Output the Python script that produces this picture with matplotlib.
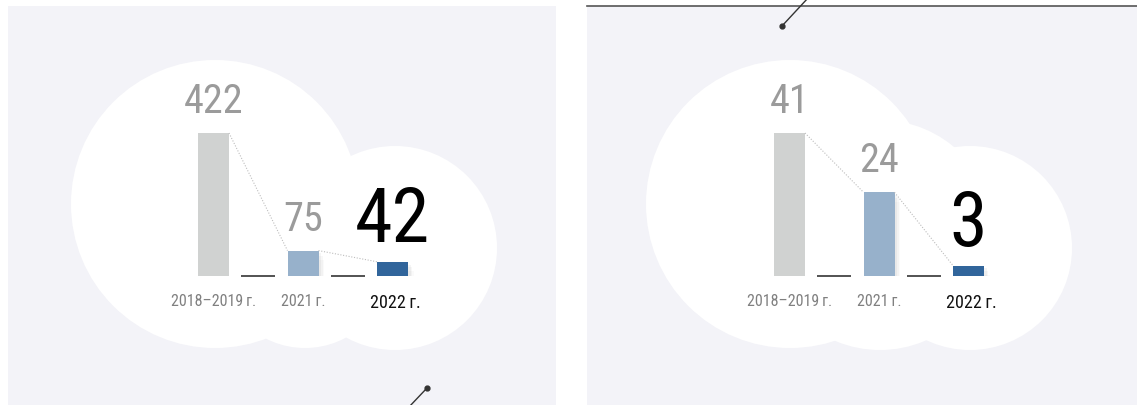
import matplotlib.pyplot as plt
from matplotlib.patches import Rectangle, Circle
from matplotlib import patheffects as pe

# Data
categories = ['2018–2019\u2009г.', '2021\u2009г.', '2022\u2009г.']
values_left = [422, 75, 42]
values_right = [41, 24, 3]

bar_colors = ['#d0d2d1', '#97b1cb', '#31659b']
value_colors = ['#9b9b9b', '#9b9b9b', '#000000']
value_sizes = [29, 29, 55]
cat_colors = ['#808080', '#808080', '#111111']
cat_sizes = [11.5, 11.5, 13]

plt.rcParams['font.family'] = ['Roboto Condensed', 'Liberation Sans Narrow',
                               'DejaVu Sans Condensed', 'Roboto', 'DejaVu Sans']

W, H = 1137, 405
fig = plt.figure(figsize=(W / 100, H / 100), dpi=100)
fig.patch.set_facecolor('white')

# background layer in pixel coordinates (y from top)
bg = fig.add_axes([0, 0, 1, 1])
bg.set_xlim(0, W)
bg.set_ylim(H, 0)
bg.axis('off')

panel_col = '#f3f3f8'
bg.add_patch(Rectangle((8, 6), 548, 400, color=panel_col, lw=0))
bg.add_patch(Rectangle((587, 6), 550, 400, color=panel_col, lw=0))

# clouds
for cx, cy, r in [(215, 204, 144), (305, 262, 86), (395, 248, 102)]:
    bg.add_patch(Circle((cx, cy), r, color='white', lw=0))
for cx, cy, r in [(790, 204, 144), (880, 235, 115), (970, 248, 102)]:
    bg.add_patch(Circle((cx, cy), r, color='white', lw=0))

# decorative lines
bg.plot([587, 1137], [6, 6], color='#555555', lw=1.2)
bg.plot([782, 808], [26, -2], color='#333333', lw=1)
bg.plot([782], [26], 'o', color='#333333', ms=3.5)
bg.plot([427, 409], [388, 407], color='#333333', lw=1)
bg.plot([427], [388], 'o', color='#333333', ms=3.5)


def draw_panel(left_px, values):
    spacing = 89.5
    height_px = 214.5
    ax = fig.add_axes([left_px / W, (H - 276) / H, 3 * spacing / W, height_px / H])
    ax.set_xlim(-0.5, 2.5)
    ax.set_ylim(0, max(values) * height_px / 143)
    ax.axis('off')
    ax.patch.set_alpha(0)

    w = 31 / spacing
    x = range(len(values))
    shadow = [pe.SimplePatchShadow(offset=(2, -2), shadow_rgbFace='k', alpha=0.04),
              pe.SimplePatchShadow(offset=(3, -4), shadow_rgbFace='k', alpha=0.03),
              pe.SimplePatchShadow(offset=(4, -7), shadow_rgbFace='k', alpha=0.02),
              pe.Normal()]
    bars = ax.bar(x, values, width=w, color=bar_colors, lw=0)
    for b in bars[1:]:
        b.set_path_effects(shadow)

    # short dashes between bars
    for i in range(len(values) - 1):
        ax.plot([i + 0.5 - 0.19, i + 0.5 + 0.19], [0, 0], color='#444444',
                lw=1.3, clip_on=False, solid_capstyle='butt')

    # dotted connectors
    for i in range(len(values) - 1):
        ax.plot([i + w / 2, i + 1 - w / 2], [values[i], values[i + 1]],
                color='#bdbdbd', lw=0.8, linestyle=(0, (1, 1.5)), clip_on=False)

    for i, v in enumerate(values):
        ax.annotate(str(v), (i, v), xytext=(0, 20), textcoords='offset pixels',
                    ha='center', va='baseline', fontsize=value_sizes[i],
                    color=value_colors[i], annotation_clip=False)
        dy = -25 if i < 2 else -27
        ax.annotate(categories[i], (i + (0.03 if i == 2 else 0), 0), xytext=(0, dy),
                    textcoords='offset pixels', ha='center', va='center',
                    fontsize=cat_sizes[i], color=cat_colors[i], annotation_clip=False)


draw_panel(168.75, values_left)
draw_panel(744.75, values_right)

fig.savefig('out.png', dpi=100)
